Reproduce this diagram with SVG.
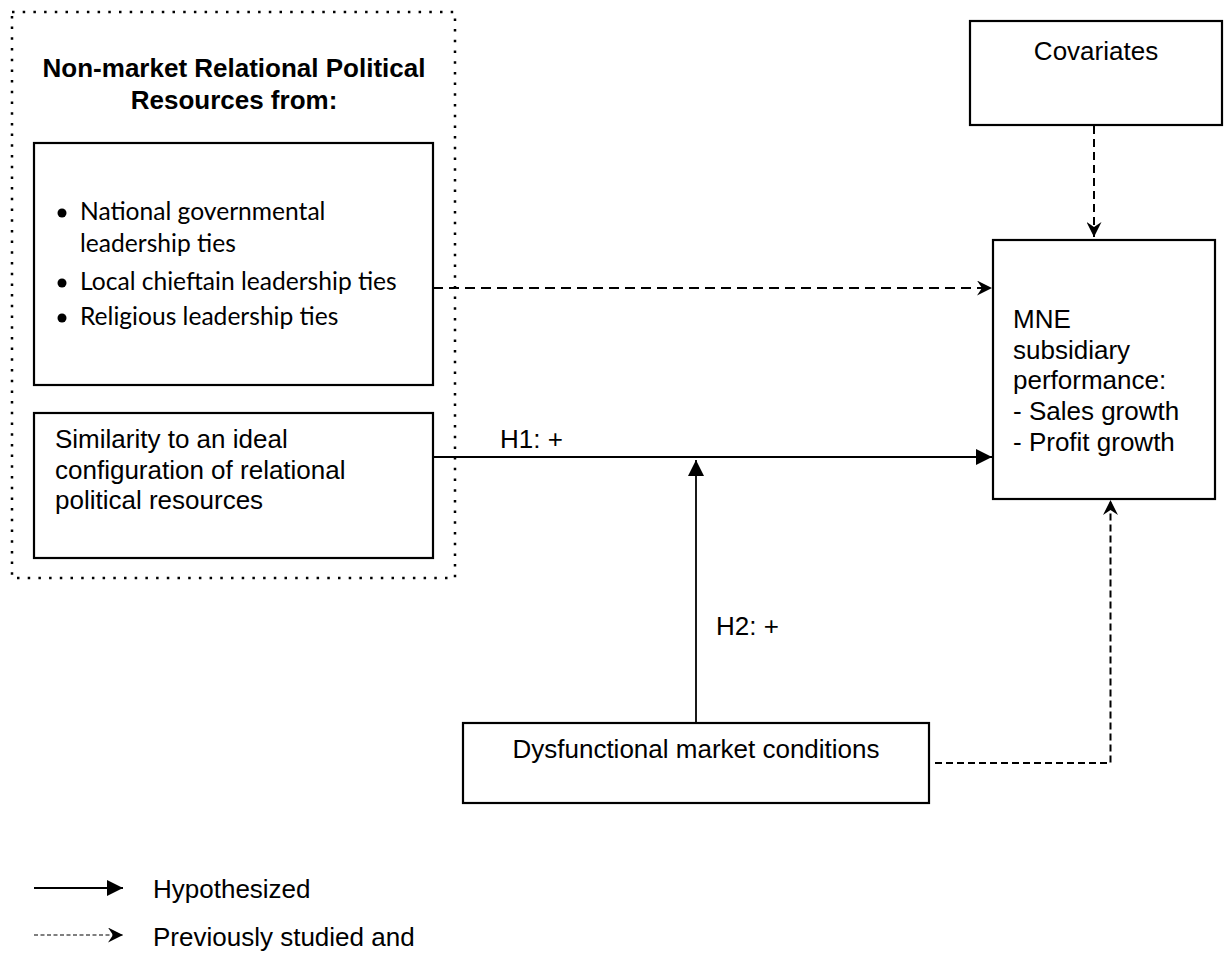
<svg xmlns="http://www.w3.org/2000/svg" width="1224" height="956" viewBox="0 0 1224 956">
<style>
.box{fill:#fff;stroke:#000;stroke-width:2.2}
.t{font-family:"Liberation Sans",Arial,sans-serif;font-size:26px;fill:#000}
.b{font-family:Lato,"Open Sans",sans-serif;font-size:24.6px;fill:#000}
.solid{stroke:#000;stroke-width:1.8;fill:none}
.dash{stroke:#000;stroke-width:2;fill:none}
</style>
<defs>
<marker id="tri" viewBox="0 0 16 16" refX="16" refY="8" markerWidth="16" markerHeight="16" markerUnits="userSpaceOnUse" orient="auto">
<path d="M0,0 L16,8 L0,16 Z" fill="#000"/>
</marker>
<marker id="notch" viewBox="0 0 15 15" refX="15" refY="7.5" markerWidth="15" markerHeight="15" markerUnits="userSpaceOnUse" orient="auto">
<path d="M0,0 L15,7.5 L0,15 L5,7.5 Z" fill="#000"/>
</marker>
</defs>
<rect x="12" y="12" width="443" height="566" fill="none" stroke="#000" stroke-width="2.5" stroke-dasharray="2.5 8.2"/>
<g id="group-title">
<text class="t" x="234" y="77" text-anchor="middle" font-weight="bold" font-size="26.6">Non-market Relational Political</text>
<text class="t" x="234" y="109" text-anchor="middle" font-weight="bold" font-size="26.6">Resources from:</text>
</g>
<g id="node-ties">
<rect class="box" x="34" y="143" width="399" height="242"/>
<circle cx="62" cy="213" r="4.5"/>
<circle cx="62" cy="283" r="4.5"/>
<circle cx="62" cy="318" r="4.5"/>
<text class="b" x="80" y="220">National governmental</text>
<text class="b" x="80" y="252">leadership ties</text>
<text class="b" x="80" y="290">Local chieftain leadership ties</text>
<text class="b" x="80" y="325">Religious leadership ties</text>
</g>
<g id="node-similarity">
<rect class="box" x="34" y="413" width="399" height="145"/>
<text class="t" x="55" y="448">Similarity to an ideal</text>
<text class="t" x="55" y="479">configuration of relational</text>
<text class="t" x="55" y="509">political resources</text>
</g>
<g id="node-covariates">
<rect class="box" x="970" y="21" width="252" height="104"/>
<text class="t" x="1096" y="60" text-anchor="middle">Covariates</text>
</g>
<g id="node-mne">
<rect class="box" x="993" y="240" width="222" height="259"/>
<text class="t" x="1013" y="328">MNE</text>
<text class="t" x="1013" y="359">subsidiary</text>
<text class="t" x="1013" y="389">performance:</text>
<text class="t" x="1013" y="420">- Sales growth</text>
<text class="t" x="1013" y="451">- Profit growth</text>
</g>
<g id="node-dysfunctional">
<rect class="box" x="463" y="723" width="466" height="80"/>
<text class="t" x="696" y="758" text-anchor="middle" font-size="26.5">Dysfunctional market conditions</text>
</g>
<g id="connectors">
<line class="dash" x1="433" y1="288" x2="992" y2="288" stroke-dasharray="10 6" marker-end="url(#notch)"/>
<line class="solid" x1="433" y1="457" x2="992" y2="457" marker-end="url(#tri)"/>
<line class="solid" x1="696" y1="723" x2="696" y2="460" marker-end="url(#tri)"/>
<line class="dash" x1="1094" y1="126" x2="1094" y2="237" stroke-dasharray="8 5" marker-end="url(#notch)"/>
<polyline class="dash" points="935,763 1110.5,763 1110.5,500" stroke-dasharray="7 4" marker-end="url(#notch)"/>
</g>
<g id="labels">
<text class="t" x="500" y="448">H1: +</text>
<text class="t" x="716" y="635">H2: +</text>
</g>
<g id="legend">
<line class="solid" x1="34" y1="888" x2="123" y2="888" marker-end="url(#tri)"/>
<text class="t" x="153" y="898">Hypothesized</text>
<line x1="34" y1="935" x2="123" y2="935" stroke="#000" stroke-width="1.2" stroke-dasharray="4 2.5" marker-end="url(#notch)"/>
<text class="t" x="153" y="946">Previously studied and</text>
</g>
</svg>
